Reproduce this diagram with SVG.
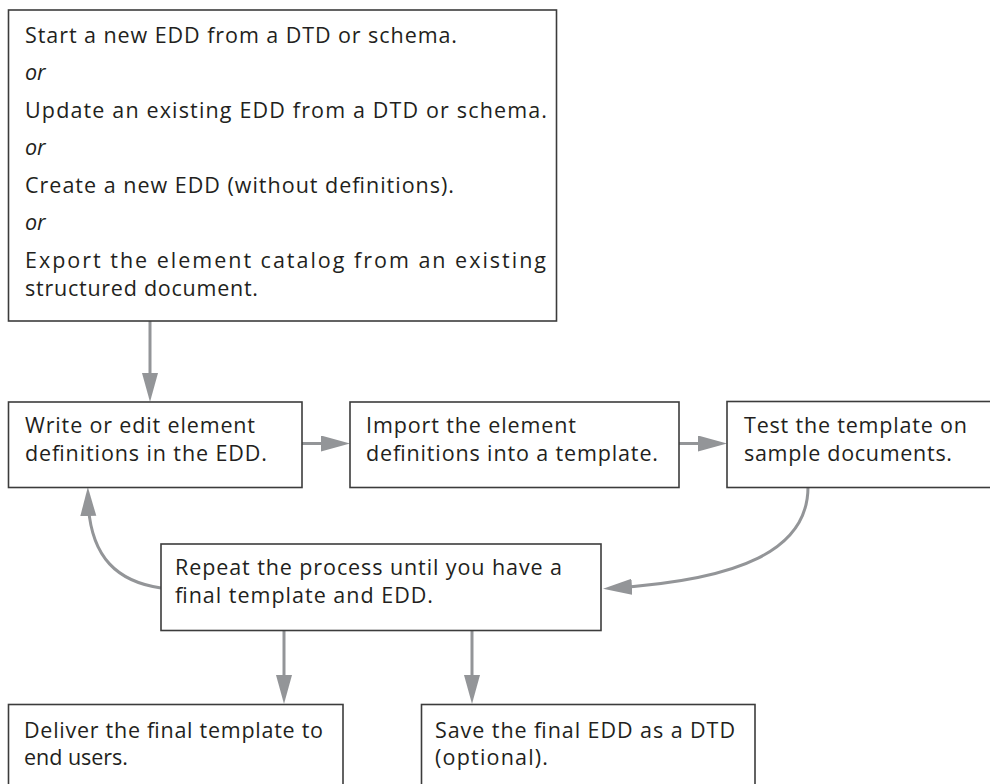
<svg xmlns="http://www.w3.org/2000/svg" width="990" height="784" viewBox="0 0 990 784">
<defs>
<style>
.box{fill:#ffffff;stroke:#3c3c3c;stroke-width:1.6}
.t{font-family:"Open Sans","Liberation Sans",sans-serif;font-size:21.5px;fill:#231f20}
.i{font-style:italic}
.c{fill:none;stroke:#939598;stroke-width:3}
</style>
<marker id="ah" markerUnits="userSpaceOnUse" markerWidth="30" markerHeight="18" refX="19" refY="8" orient="auto">
<path d="M0,0 L29,8 L0,16 z" fill="#939598"/>
</marker>
</defs>
<rect width="990" height="784" fill="#ffffff"/>
<g id="connectors">
<path class="c" d="M150,321 L150,392" marker-end="url(#ah)"/>
<path class="c" d="M302,443.5 L340,443.5" marker-end="url(#ah)"/>
<path class="c" d="M679,443.5 L717,443.5" marker-end="url(#ah)"/>
<path class="c" d="M808,487 C808,550 740,580 613,588" marker-end="url(#ah)"/>
<path class="c" d="M161,588 C120,582 89,560 88,497" marker-end="url(#ah)"/>
<path class="c" d="M284,631 L284,694" marker-end="url(#ah)"/>
<path class="c" d="M472,631 L472,694" marker-end="url(#ah)"/>
</g>
<g id="start">
<rect class="box" x="8.5" y="10" width="548" height="311"/>
<text class="t" x="25" y="43" textLength="432" lengthAdjust="spacing">Start a new EDD from a DTD or schema.</text>
<text class="t i" x="25" y="80">or</text>
<text class="t" x="25" y="118" textLength="522" lengthAdjust="spacing">Update an existing EDD from a DTD or schema.</text>
<text class="t i" x="25" y="155">or</text>
<text class="t" x="25" y="192.5" textLength="429" lengthAdjust="spacing">Create a new EDD (without definitions).</text>
<text class="t i" x="25" y="230">or</text>
<text class="t" x="25" y="267.5" textLength="521" lengthAdjust="spacing">Export the element catalog from an existing</text>
<text class="t" x="25" y="296" textLength="233" lengthAdjust="spacing">structured document.</text>
</g>
<g id="write">
<rect class="box" x="8.5" y="402" width="293.5" height="85.5"/>
<text class="t" x="25" y="432.5" textLength="230" lengthAdjust="spacing">Write or edit element</text>
<text class="t" x="25" y="460.5" textLength="242" lengthAdjust="spacing">definitions in the EDD.</text>
</g>
<g id="import">
<rect class="box" x="350" y="402" width="329" height="85.5"/>
<text class="t" x="366" y="432.5" textLength="210" lengthAdjust="spacing">Import the element</text>
<text class="t" x="366" y="460.5" textLength="292" lengthAdjust="spacing">definitions into a template.</text>
</g>
<g id="test">
<rect class="box" x="727" y="401.5" width="270" height="86"/>
<text class="t" x="744" y="432.5" textLength="223" lengthAdjust="spacing">Test the template on</text>
<text class="t" x="744" y="460.5" textLength="208" lengthAdjust="spacing">sample documents.</text>
</g>
<g id="repeat">
<rect class="box" x="161" y="544" width="440" height="86.5"/>
<text class="t" x="175" y="575" textLength="387" lengthAdjust="spacing">Repeat the process until you have a</text>
<text class="t" x="175" y="603" textLength="258" lengthAdjust="spacing">final template and EDD.</text>
</g>
<g id="deliver">
<rect class="box" x="8.5" y="704.5" width="334.5" height="90"/>
<text class="t" x="24" y="738" textLength="299" lengthAdjust="spacing">Deliver the final template to</text>
<text class="t" x="24" y="765" textLength="104" lengthAdjust="spacing">end users.</text>
</g>
<g id="save">
<rect class="box" x="421.5" y="704.5" width="333.5" height="90"/>
<text class="t" x="435" y="738" textLength="300" lengthAdjust="spacing">Save the final EDD as a DTD</text>
<text class="t" x="435" y="765" textLength="113" lengthAdjust="spacing">(optional).</text>
</g>
</svg>
